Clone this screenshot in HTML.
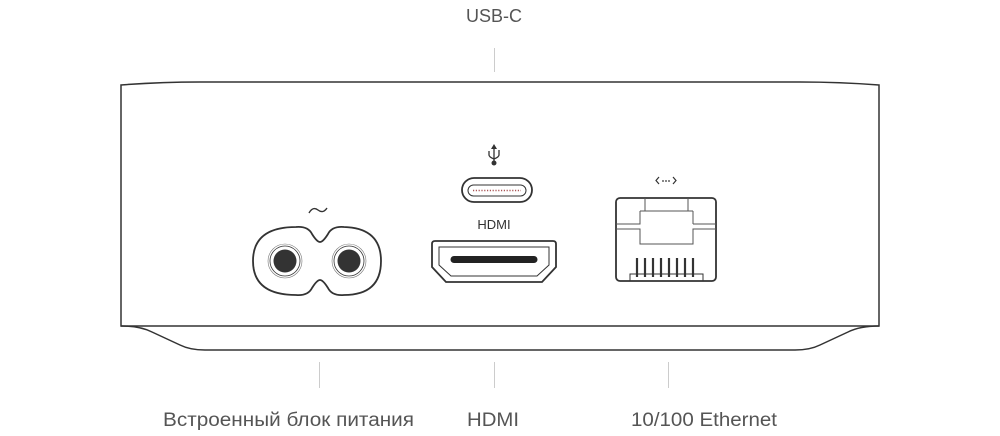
<!DOCTYPE html>
<html><head><meta charset="utf-8"><style>
html,body{margin:0;padding:0;background:#fff;width:1000px;height:436px;overflow:hidden}
svg{display:block}
text{font-family:"Liberation Sans","DejaVu Sans",sans-serif}
</style></head><body>
<svg width="1000" height="436" viewBox="0 0 1000 436" xmlns="http://www.w3.org/2000/svg">
<text x="494" y="22" font-size="18" fill="#555" text-anchor="middle">USB-C</text>
<line x1="494.5" y1="48" x2="494.5" y2="72" stroke="#ccc" stroke-width="1"/>
<line x1="319.5" y1="362" x2="319.5" y2="388" stroke="#ccc"/>
<line x1="494.5" y1="362" x2="494.5" y2="388" stroke="#ccc"/>
<line x1="668.5" y1="362" x2="668.5" y2="388" stroke="#ccc"/>
<text x="163" y="426" font-size="19" fill="#555" textLength="251" lengthAdjust="spacingAndGlyphs">Встроенный блок питания</text>
<text x="467" y="426" font-size="19" fill="#555" textLength="52" lengthAdjust="spacingAndGlyphs">HDMI</text>
<text x="631" y="426" font-size="19" fill="#555" textLength="146" lengthAdjust="spacingAndGlyphs">10/100 Ethernet</text>

<g fill="none" stroke="#333" stroke-width="1.5">
<path d="M121,326 L121,85 Q160,82 200,82 L800,82 Q840,82 879,85 L879,326 Z"/>
<path d="M121,326 Q140,326 152,332 L180,345 Q190,350 205,350 L795,350 Q810,350 820,345 L848,332 Q860,326 879,326"/>
<path d="M309,213 Q313,206 318,210 Q323,214 327,208" stroke-width="1.4"/>
<path d="M296,227 Q308,226 312,234 Q317,242 320,242 Q323,242 328,234 Q332,226 344,227 Q381,228 381,261 Q381,295 344,295 Q332,296 328,288 Q323,280 320,280 Q317,280 312,288 Q308,296 296,295 Q253,295 253,261 Q253,227 296,227 Z" stroke-width="1.8"/>
<circle cx="285" cy="261" r="15" stroke-width="0.8"/>
<circle cx="285" cy="261" r="17" stroke-width="0.6" stroke="#777"/>
<circle cx="349" cy="261" r="15" stroke-width="0.8"/>
<circle cx="349" cy="261" r="17" stroke-width="0.6" stroke="#777"/>
<rect x="462" y="178" width="70" height="24" rx="12" stroke-width="1.8"/>
<rect x="468" y="185" width="58" height="11" rx="5.5" stroke-width="1"/>
<line x1="473" y1="190.5" x2="521" y2="190.5" stroke="#a55" stroke-width="1.5" stroke-dasharray="1.2 1.6"/>
<path d="M494,146 L494,162 M489,151 L489,155 Q489,157 494,159 M499,150 L499,155 Q499,157 494,159" stroke-width="1.3"/>
<path d="M435,241 L553,241 Q556,241 556,244 L556,267 L542,282 L446,282 L432,267 L432,244 Q432,241 435,241 Z" stroke-width="1.8"/>
<path d="M439,247 L549,247 L549,265 L537,276 L451,276 L439,265 Z" stroke-width="1"/>
<rect x="616" y="198" width="100" height="83" rx="4" stroke-width="1.8"/>
<path d="M645,198 L645,211 L688,211 L688,198 M616,224 L640,224 L640,211 M616,229 L640,229 L640,244 L693,244 L693,229 L716,229 M693,224 L716,224 M693,211 L693,224 M640,211 L693,211" stroke-width="1" stroke="#555"/>
<rect x="630" y="274" width="73" height="7" stroke-width="1"/>
</g>
<line x1="454" y1="259.5" x2="534" y2="259.5" stroke="#222" stroke-width="7" stroke-linecap="round"/>
<circle cx="285" cy="261" r="11.5" fill="#333"/>
<circle cx="349" cy="261" r="11.5" fill="#333"/>
<circle cx="494" cy="163" r="2.5" fill="#333"/>
<path d="M491,149 L494,144 L497,149 Z" fill="#333"/>
<g stroke="#333" stroke-width="2.2">
<line x1="637" y1="258" x2="637" y2="277"/><line x1="645" y1="258" x2="645" y2="277"/><line x1="653" y1="258" x2="653" y2="277"/><line x1="661" y1="258" x2="661" y2="277"/><line x1="669" y1="258" x2="669" y2="277"/><line x1="677" y1="258" x2="677" y2="277"/><line x1="685" y1="258" x2="685" y2="277"/><line x1="693" y1="258" x2="693" y2="277"/>
</g>
<g fill="none" stroke="#333" stroke-width="1.2"><path d="M659,177 L656,180.5 L659,184 M673,177 L676,180.5 L673,184"/></g>
<circle cx="663" cy="181" r="0.9" fill="#333"/><circle cx="666" cy="181" r="0.9" fill="#333"/><circle cx="669" cy="181" r="0.9" fill="#333"/>
<text x="494" y="229" font-size="13" fill="#333" text-anchor="middle">HDMI</text>
</svg>
</body></html>
